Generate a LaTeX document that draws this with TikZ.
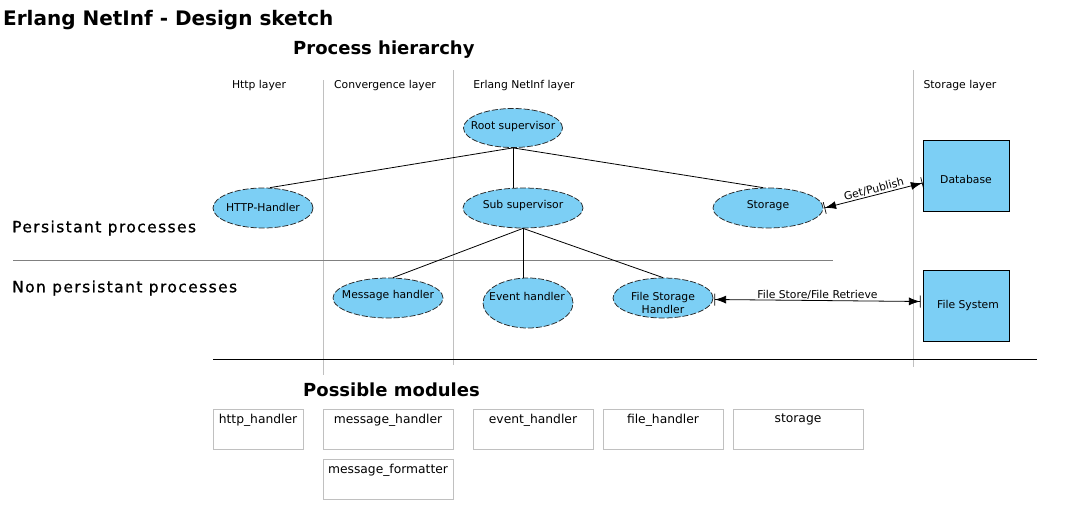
\documentclass[tikz,border=0pt]{standalone}
\usepackage{fontspec}
\setmainfont{DejaVu Sans}
\usetikzlibrary{shapes.geometric,arrows.meta,calc}
\definecolor{procblue}{RGB}{124,207,245}
\definecolor{lightgrid}{RGB}{192,192,192}
\definecolor{midgrid}{RGB}{128,128,128}
\definecolor{dashgray}{RGB}{40,40,40}
\newcommand{\smallfs}{\fontsize{10.8}{12.8}\selectfont}
\newcommand{\modfs}{\fontsize{12.3}{14}\selectfont}
\newcommand{\secfs}{\addfontfeatures{LetterSpace=9,FakeBold=0.8}\fontsize{15.5}{18}\selectfont}
\begin{document}
\begin{tikzpicture}[x=1pt,y=-1pt,
  proc/.style={ellipse,draw=dashgray,dash pattern=on 6pt off 2pt,fill=procblue,inner sep=0pt,line width=0.75pt,font=\smallfs},
  store/.style={rectangle,draw=black,fill=procblue,inner sep=0pt,line width=0.9pt,font=\smallfs},
  modbox/.style={rectangle,draw=lightgrid,line width=0.9pt,inner sep=0pt},
  modtext/.style={font=\modfs,anchor=north,inner sep=0pt},
  layertext/.style={font=\smallfs,inner sep=0pt},
  bigtitle/.style={font=\bfseries\fontsize{20}{23}\selectfont,anchor=west,inner sep=0pt},
  heading/.style={font=\bfseries\fontsize{18}{21}\selectfont,anchor=west,inner sep=0pt},
  section/.style={font=\secfs,anchor=west,inner sep=0pt},
  conn/.style={draw=black,line width=0.8pt},
  dataflow/.style={draw=black,line width=0.8pt,{Bar[width=12pt,line width=0.7pt]Latex[length=11pt,width=8pt]}-{Latex[length=11pt,width=8pt]Bar[width=12pt,line width=0.7pt]}},
  flowlabel/.style={font=\smallfs,inner sep=1pt}
]
\path[use as bounding box,fill=white] (0,0) rectangle (1067,506);

% titles
\node[bigtitle] (title) at (3,20) {Erlang NetInf - Design sketch};
\node[heading] (ph) at (293,50) {Process hierarchy};
\node[heading] (pm) at (303,390) {Possible modules};
\node[section] (pers) at (12,228) {Persistant processes};
\node[section] (npers) at (12,288) {Non persistant processes};

% layer separators
\coordinate (v1t) at (323,80);  \coordinate (v1b) at (323,375);
\coordinate (v2t) at (453,70);  \coordinate (v2b) at (453,365);
\coordinate (v3t) at (913,70);  \coordinate (v3b) at (913,367);
\draw[lightgrid,line width=0.9pt] (v1t) -- (v1b);
\draw[lightgrid,line width=0.9pt] (v2t) -- (v2b);
\draw[lightgrid,line width=0.9pt] (v3t) -- (v3b);
\coordinate (hl) at (13,260); \coordinate (hr) at (833,260);
\draw[midgrid,line width=0.9pt] (hl) -- (hr);
\coordinate (bl) at (213,359); \coordinate (br) at (1037,359);
\draw[black,line width=0.9pt] (bl) -- (br);

% layer labels
\node[layertext] (lhttp) at (259,86) {Http layer};
\node[layertext] (lconv) at (385,86) {Convergence layer};
\node[layertext] (lerl) at (524,86) {Erlang NetInf layer};
\node[layertext] (lsto) at (960,86) {Storage layer};

% processes
\node[proc,minimum width=99pt,minimum height=39pt] (root) at (513,128) {};
\node[font=\smallfs,inner sep=0pt] (roott) at (513,127) {Root supervisor};
\node[proc,minimum width=100pt,minimum height=40pt] (http) at (263,208) {};
\node[font=\smallfs,inner sep=0pt] (httpt) at (263,207) {HTTP-Handler};
\node[proc,minimum width=120pt,minimum height=40pt] (sub) at (523,208) {};
\node[font=\smallfs,inner sep=0pt] (subt) at (523,206) {Sub supervisor};
\node[proc,minimum width=110pt,minimum height=40pt] (sto) at (768,208) {};
\node[font=\smallfs,inner sep=0pt] (stot) at (768,206) {Storage};
\node[proc,minimum width=110pt,minimum height=40pt] (msg) at (388,298) {};
\node[font=\smallfs,inner sep=0pt] (msgt) at (388,296) {Message handler};
\node[proc,minimum width=90pt,minimum height=50pt] (evt) at (528,303) {};
\node[font=\smallfs,inner sep=0pt] (evtt) at (527,296) {Event handler};
\node[proc,minimum width=100pt,minimum height=40pt] (fsh) at (663,298) {};
\node[font=\smallfs,inner sep=0pt,align=center] (fsht) at (663,303) {File Storage\\Handler};

% storage
\node[store,minimum width=86pt,minimum height=71pt] (db) at (966,175.5) {};
\node[font=\smallfs,inner sep=0pt] (dbt) at (966,179) {Database};
\node[store,minimum width=86pt,minimum height=71pt] (fs) at (966,305.5) {};
\node[font=\smallfs,inner sep=0pt] (fst) at (968,306) {File System};

% hierarchy connectors
\draw[conn] (root.south) -- ($(http.north)+(7,0)$);
\draw[conn] (root.south) -- (root.south |- sub.north);
\draw[conn] (root.south) -- ($(sto.north)+(-5,0)$);
\draw[conn] (sub.south) -- ($(msg.north)+(5,0)$);
\draw[conn] (sub.south) -- ($(evt.north)+(-5,0)$);
\draw[conn] (sub.south) -- (fsh.north);

% data flows
\draw[dataflow] ($(sto.east)+(1,0)$) -- node[flowlabel,sloped,above,pos=0.52] (gp) {Get/Publish} ($(db.west)+(0,7.5)$);
\draw[dataflow] ($(fsh.east)+(1,1.5)$) -- node[flowlabel,above,pos=0.5] (fsr) {File Store/File Retrieve} ($(fs.west)+(-2,-4)$);

% possible modules
\node[modbox,minimum width=90pt,minimum height=40pt,anchor=north west] (m1) at (213,409) {};
\node[modtext] (m1t) at (258,413.5) {http\_handler};
\node[modbox,minimum width=130pt,minimum height=40pt,anchor=north west] (m2) at (323,409) {};
\node[modtext] (m2t) at (388,413.5) {message\_handler};
\node[modbox,minimum width=120pt,minimum height=40pt,anchor=north west] (m3) at (473,409) {};
\node[modtext] (m3t) at (533,413.5) {event\_handler};
\node[modbox,minimum width=120pt,minimum height=40pt,anchor=north west] (m4) at (603,409) {};
\node[modtext] (m4t) at (663,413.5) {file\_handler};
\node[modbox,minimum width=130pt,minimum height=40pt,anchor=north west] (m5) at (733,409) {};
\node[modtext] (m5t) at (798,413.5) {storage};
\node[modbox,minimum width=130pt,minimum height=40pt,anchor=north west] (m6) at (323,459) {};
\node[modtext] (m6t) at (388,463.5) {message\_formatter};
\end{tikzpicture}
\end{document}
